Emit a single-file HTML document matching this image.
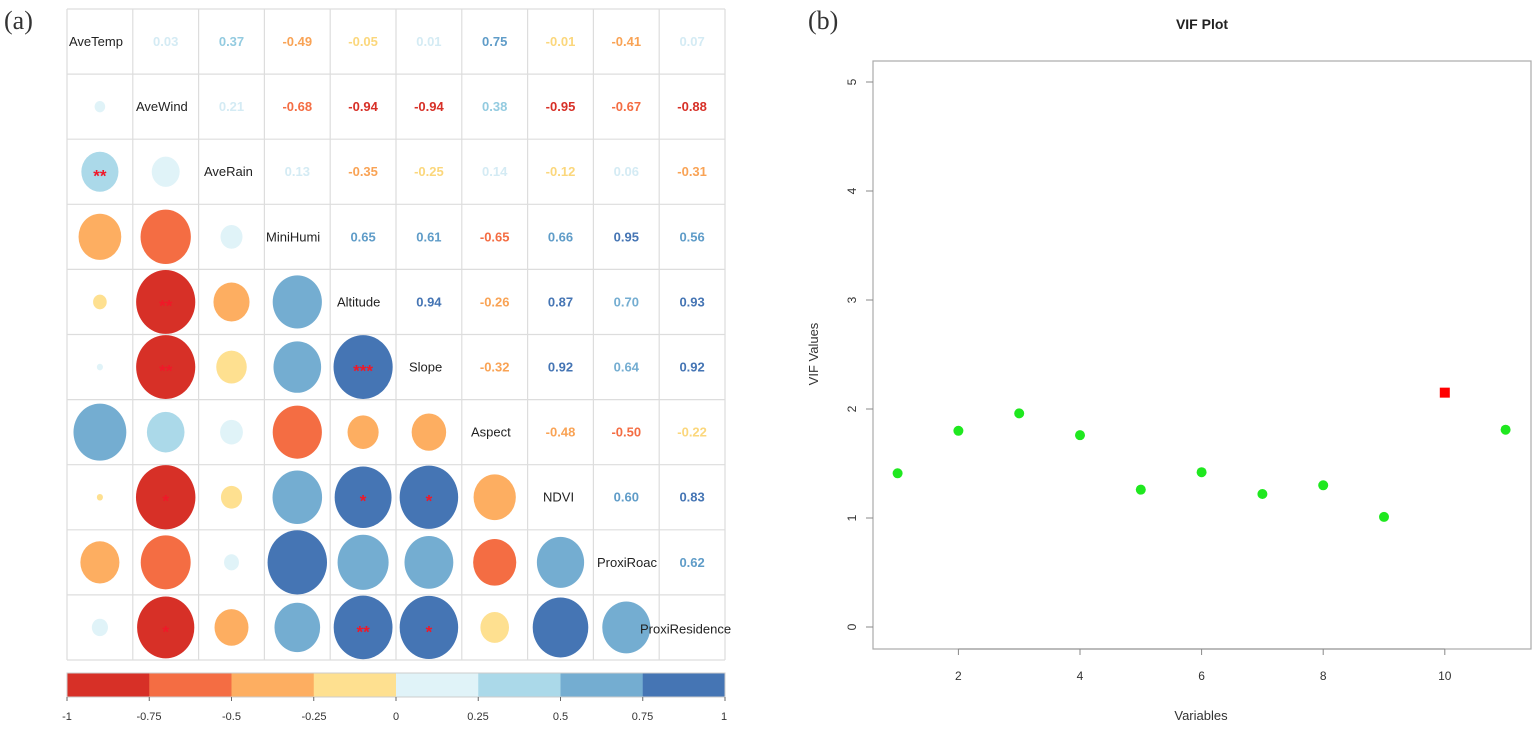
<!DOCTYPE html>
<html><head><meta charset="utf-8"><style>
html,body{margin:0;padding:0;background:#fff;}
svg{display:block;font-family:"Liberation Sans",sans-serif;}
.n{font-size:13px;font-weight:bold;text-anchor:middle;dominant-baseline:central;}
.l{font-size:13px;fill:#222;dominant-baseline:central;}
.s{font-size:17px;fill:#f01828;font-weight:bold;text-anchor:middle;dominant-baseline:central;}
.t{font-size:11px;fill:#333;text-anchor:middle;}
</style></head><body>
<svg id="s" width="1535" height="729" viewBox="0 0 1535 729">
<text x="4" y="29" font-family="Liberation Serif" font-size="26" fill="#333">(a)</text>
<text x="808" y="29" font-family="Liberation Serif" font-size="26" fill="#333">(b)</text>
<g id="grid"></g>
<g id="circ"></g>
<text class="l" x="69" y="41.5">AveTemp</text>
<text class="l" x="136" y="106.6">AveWind</text>
<text class="l" x="204" y="171.7">AveRain</text>
<text class="l" x="266" y="236.8">MiniHumi</text>
<text class="l" x="337" y="301.9">Altitude</text>
<text class="l" x="409" y="367">Slope</text>
<text class="l" x="471" y="432.1">Aspect</text>
<text class="l" x="543" y="497.2">NDVI</text>
<text class="l" x="597" y="562.3">ProxiRoac</text>
<text class="l" x="640" y="629">ProxiResidence</text>
<g class="n">
<text x="165.7" y="41.5" fill="#d4ebf4">0.03</text><text x="231.5" y="41.5" fill="#93cbe0">0.37</text><text x="297.3" y="41.5" fill="#f9a355">-0.49</text><text x="363.1" y="41.5" fill="#fbd77c">-0.05</text><text x="428.9" y="41.5" fill="#d4ebf4">0.01</text><text x="494.7" y="41.5" fill="#5f9cc8">0.75</text><text x="560.5" y="41.5" fill="#fbd77c">-0.01</text><text x="626.3" y="41.5" fill="#f9a355">-0.41</text><text x="692.1" y="41.5" fill="#d4ebf4">0.07</text>
<text x="231.5" y="106.6" fill="#d4ebf4">0.21</text><text x="297.3" y="106.6" fill="#f46d43">-0.68</text><text x="363.1" y="106.6" fill="#d73027">-0.94</text><text x="428.9" y="106.6" fill="#d73027">-0.94</text><text x="494.7" y="106.6" fill="#93cbe0">0.38</text><text x="560.5" y="106.6" fill="#d73027">-0.95</text><text x="626.3" y="106.6" fill="#f46d43">-0.67</text><text x="692.1" y="106.6" fill="#d73027">-0.88</text>
<text x="297.3" y="171.7" fill="#d4ebf4">0.13</text><text x="363.1" y="171.7" fill="#f9a355">-0.35</text><text x="428.9" y="171.7" fill="#fbd77c">-0.25</text><text x="494.7" y="171.7" fill="#d4ebf4">0.14</text><text x="560.5" y="171.7" fill="#fbd77c">-0.12</text><text x="626.3" y="171.7" fill="#d4ebf4">0.06</text><text x="692.1" y="171.7" fill="#f9a355">-0.31</text>
<text x="363.1" y="236.8" fill="#5f9cc8">0.65</text><text x="428.9" y="236.8" fill="#5f9cc8">0.61</text><text x="494.7" y="236.8" fill="#f46d43">-0.65</text><text x="560.5" y="236.8" fill="#5f9cc8">0.66</text><text x="626.3" y="236.8" fill="#4575b4">0.95</text><text x="692.1" y="236.8" fill="#5f9cc8">0.56</text>
<text x="428.9" y="301.9" fill="#4575b4">0.94</text><text x="494.7" y="301.9" fill="#f9a355">-0.26</text><text x="560.5" y="301.9" fill="#4575b4">0.87</text><text x="626.3" y="301.9" fill="#74add1">0.70</text><text x="692.1" y="301.9" fill="#4575b4">0.93</text>
<text x="494.7" y="367" fill="#f9a355">-0.32</text><text x="560.5" y="367" fill="#4575b4">0.92</text><text x="626.3" y="367" fill="#74add1">0.64</text><text x="692.1" y="367" fill="#4575b4">0.92</text>
<text x="560.5" y="432.1" fill="#f9a355">-0.48</text><text x="626.3" y="432.1" fill="#f46d43">-0.50</text><text x="692.1" y="432.1" fill="#fbd77c">-0.22</text>
<text x="626.3" y="497.2" fill="#5f9cc8">0.60</text><text x="692.1" y="497.2" fill="#4575b4">0.83</text>
<text x="692.1" y="562.3" fill="#5f9cc8">0.62</text>
</g>
<g id="stars">
<text class="s" x="99.9" y="176">**</text>
<text class="s" x="165.7" y="306">**</text>
<text class="s" x="165.7" y="371">**</text>
<text class="s" x="363.1" y="371">***</text>
<text class="s" x="165.7" y="501">*</text>
<text class="s" x="363.1" y="501">*</text>
<text class="s" x="428.9" y="501">*</text>
<text class="s" x="165.7" y="632">*</text>
<text class="s" x="363.1" y="632">**</text>
<text class="s" x="428.9" y="632">*</text>
</g>
<g id="cbar"></g>
<g class="t">
<text x="67" y="720">-1</text><text x="149" y="720">-0.75</text><text x="231.5" y="720">-0.5</text><text x="314" y="720">-0.25</text><text x="396" y="720">0</text><text x="478" y="720">0.25</text><text x="560.5" y="720">0.5</text><text x="642.5" y="720">0.75</text><text x="724" y="720">1</text>
</g>
<text x="1202" y="29" font-size="14" font-weight="bold" text-anchor="middle" fill="#222">VIF Plot</text>
<rect x="873" y="61" width="658" height="588" fill="none" stroke="#aaa" stroke-width="1.2"/>
<g id="vif"></g>
<text x="1201" y="720" font-size="13" text-anchor="middle" fill="#333">Variables</text>
<text transform="translate(818,354) rotate(-90)" font-size="13" text-anchor="middle" fill="#333">VIF Values</text>
<g font-size="12" fill="#333" text-anchor="middle">
<text x="958.4" y="680">2</text><text x="1080" y="680">4</text><text x="1201.6" y="680">6</text><text x="1323.2" y="680">8</text><text x="1444.8" y="680">10</text>
<text transform="translate(856,627) rotate(-90)">0</text><text transform="translate(856,518) rotate(-90)">1</text><text transform="translate(856,409) rotate(-90)">2</text><text transform="translate(856,300) rotate(-90)">3</text><text transform="translate(856,191) rotate(-90)">4</text><text transform="translate(856,82) rotate(-90)">5</text>
</g>
</svg>
<script>
var NS="http://www.w3.org/2000/svg";
function el(p,t,a){var e=document.createElementNS(NS,t);for(var k in a)e.setAttribute(k,a[k]);document.getElementById(p).appendChild(e);return e;}
var X0=67,Y0=9,CW=65.8,CH=65.1;
for(var i=0;i<=10;i++){el("grid","line",{x1:X0+i*CW,x2:X0+i*CW,y1:Y0,y2:Y0+10*CH,stroke:"#ddd","stroke-width":1.2});el("grid","line",{y1:Y0+i*CH,y2:Y0+i*CH,x1:X0,x2:X0+10*CW,stroke:"#ddd","stroke-width":1.2});}
var U=[[0.03,0.37,-0.49,-0.05,0.01,0.75,-0.01,-0.41,0.07],[0.21,-0.68,-0.94,-0.94,0.38,-0.95,-0.67,-0.88],[0.13,-0.35,-0.25,0.14,-0.12,0.06,-0.31],[0.65,0.61,-0.65,0.66,0.95,0.56],[0.94,-0.26,0.87,0.70,0.93],[-0.32,0.92,0.64,0.92],[-0.48,-0.50,-0.22],[0.60,0.83],[0.62]];
var C=["#d73027","#f46d43","#fdae61","#fee090","#e0f3f8","#abd9e9","#74add1","#4575b4"];
function col(v){if(v==-0.5)return C[1];if(v==-0.25)return C[3];var k=Math.floor((v+1)/0.25);if(v==0.75)k=6;return C[Math.max(0,Math.min(7,k))];}
for(var i=0;i<9;i++)for(var j=0;j<U[i].length;j++){var v=U[i][j],c=i+1+j;
var rx=30.5*Math.sqrt(Math.abs(v));el("circ","ellipse",{cx:X0+CW*(i+0.5),cy:Y0+CH*(c+0.5),rx:rx,ry:rx*1.08,fill:col(v)});}
for(var k=0;k<8;k++)el("cbar","rect",{x:67+k*82.25,y:673,width:82.6,height:24,fill:C[k]});
el("cbar","rect",{x:67,y:673,width:658,height:24,fill:"none",stroke:"#ccc"});
for(var k=0;k<9;k++)el("cbar","line",{x1:67+k*82.25,x2:67+k*82.25,y1:697,y2:701,stroke:"#666"});
var V=[1.41,1.80,1.96,1.76,1.26,1.42,1.22,1.30,1.01,2.15,1.81];
for(var k=0;k<11;k++){var x=897.6+60.8*k,y=627-109*V[k];
if(k==9)el("vif","rect",{x:x-5,y:y-5,width:10,height:10,fill:"#f00"});else el("vif","circle",{cx:x,cy:y,r:5,fill:"#1fe81f"});}
el("vif","line",{x1:958.4,x2:1444.8,y1:649,y2:649,stroke:"#888"});
for(var k=2;k<=10;k+=2){var x=897.6+60.8*(k-1);el("vif","line",{x1:x,x2:x,y1:649,y2:655,stroke:"#888"});}
for(var k=0;k<=5;k++){var y=627-109*k;el("vif","line",{x1:866,x2:873,y1:y,y2:y,stroke:"#888"});}
</script>
</body></html>
